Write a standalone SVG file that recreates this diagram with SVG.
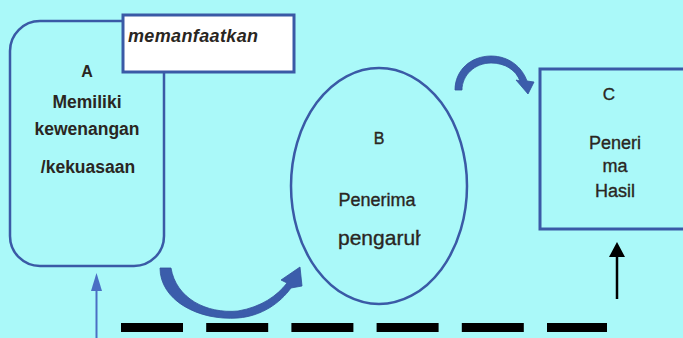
<svg xmlns="http://www.w3.org/2000/svg" width="683" height="338" viewBox="0 0 683 338">
  <defs>
    <style>
      .shape { fill: none; stroke: #3a5aa6; stroke-width: 2.5; }
      .lbl { font-family: "Liberation Sans", Arial, sans-serif; fill: #2a2622; text-anchor: middle; }
      .reg { stroke: #2a2622; stroke-width: 0.35; }
      .bold { font-weight: bold; }
      .block { fill: #3b5dab; stroke: #34529a; stroke-width: 0.8; }
    </style>
    <clipPath id="clipB">
      <rect x="330" y="225" width="90.5" height="30"/>
    </clipPath>
  </defs>

  <rect x="0" y="0" width="683" height="338" fill="#aaf9f9"/>

  <!-- A: holder of authority -->
  <g id="node-a">
    <rect class="shape" x="10" y="21" width="154" height="245" rx="30" ry="30"/>
    <text class="lbl bold" x="87" y="77" font-size="16">A</text>
    <text class="lbl bold" x="87" y="108" font-size="17.5">Memiliki</text>
    <text class="lbl bold" x="87" y="135" font-size="17.5">kewenangan</text>
    <text class="lbl bold" x="88" y="173" font-size="17.5">/kekuasaan</text>
  </g>

  <!-- label box over A -->
  <g id="label-memanfaatkan">
    <rect x="123" y="15" width="171" height="57" fill="#ffffff" stroke="#3a5aa6" stroke-width="3"/>
    <text x="128" y="42" font-family="Liberation Sans, Arial, sans-serif" font-size="18" font-weight="bold" font-style="italic" fill="#2a2622" textLength="130">memanfaatkan</text>
  </g>

  <!-- B: receiver of influence -->
  <g id="node-b">
    <ellipse class="shape" cx="379" cy="186" rx="88" ry="118"/>
    <text class="lbl reg" x="379" y="144" font-size="16">B</text>
    <text class="lbl reg" x="377" y="206" font-size="18">Penerima</text>
    <text class="reg" x="338" y="245" font-family="Liberation Sans, Arial, sans-serif" font-size="21" fill="#2a2622" clip-path="url(#clipB)">pengaruh</text>
  </g>

  <!-- C: receiver of results -->
  <g id="node-c">
    <rect x="540" y="69" width="160" height="160" fill="none" stroke="#3a5aa6" stroke-width="3"/>
    <text class="lbl reg" x="609" y="100" font-size="17">C</text>
    <text class="lbl reg" x="615" y="149" font-size="18">Peneri</text>
    <text class="lbl reg" x="615" y="172" font-size="18">ma</text>
    <text class="lbl reg" x="615" y="197" font-size="18">Hasil</text>
  </g>

  <!-- connectors -->
  <g id="connectors">
    <!-- curved block arrow A to B -->
    <path class="block" d="M160,268 C160,300 198,321 238,318 C262,316 280,303 291,288 L302,286 L300,267 L281,280 L287,283 C277,296 261,307 238,311 C206,314 176,298 171,268 Z"/>
    <!-- curved block arrow B to C -->
    <path class="block" d="M455,90 C455,70 471,56 491,56 C509,56 522,67 527,81 L534,82 L528,94 L516,80 L520,81 C516,70 505,63 491,63 C475,63 462,75 462,90 Z"/>
    <!-- thin arrow up into A -->
    <line x1="96.5" y1="290" x2="96.5" y2="338" stroke="#4a6fc4" stroke-width="2"/>
    <path d="M96.5,273 L102,291 L91,291 Z" fill="#4a6fc4"/>
    <!-- black arrow up into C -->
    <line x1="617" y1="256" x2="617" y2="299" stroke="#000000" stroke-width="2.5"/>
    <path d="M617,242 L625,257 L609,257 Z" fill="#000000"/>
    <!-- dashed base line -->
    <line x1="121" y1="327.5" x2="607" y2="327.5" stroke="#000000" stroke-width="9" stroke-dasharray="62 23.2"/>
  </g>
</svg>
